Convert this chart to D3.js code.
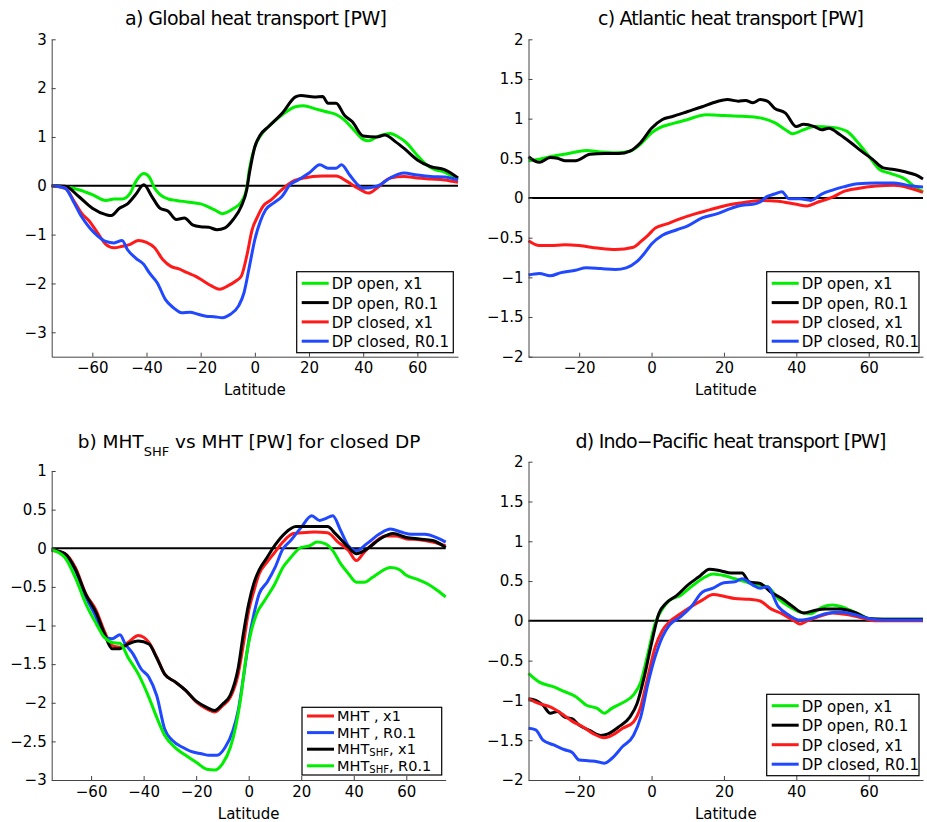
<!DOCTYPE html>
<html>
<head>
<meta charset="utf-8">
<script src="https://cdn.jsdelivr.net/npm/d3@7"></script>
<style>
  body { margin: 0; background: #fff; }
  svg { display: block; font-family: "DejaVu Sans", sans-serif; }
  .axis .domain { stroke: #444; }
  .axis line { stroke: #444; }
  .axis text { fill: #000; font-size: 15px; font-family: "DejaVu Sans", sans-serif; }
</style>
</head>
<body>
<div id="chart"></div>
<script>
// ---- data (latitude, PW) ----
const aOpenX1 = [[-75,0],[-70,-0.02],[-65,-0.08],[-60,-0.18],[-55,-0.3],[-52,-0.27],[-49,-0.27],[-46,-0.15],[-44,0.08],[-41,0.25],[-39,0.18],[-37,-0.05],[-35,-0.18],[-32,-0.27],[-29,-0.3],[-25,-0.33],[-20,-0.37],[-15,-0.49],[-12,-0.57],[-8,-0.47],[-5,-0.33],[-3,-0.05],[-2,0.35],[0,0.8],[2,1.02],[5,1.21],[10,1.45],[15,1.62],[18,1.64],[22,1.58],[26,1.52],[30,1.46],[33,1.35],[36,1.18],[40,0.95],[42,0.92],[45,1.0],[50,1.07],[53,1.0],[56,0.88],[60,0.62],[63,0.45],[66,0.34],[70,0.28],[75,0.12]];
const aOpenR01 = [[-75,0],[-70,-0.01],[-65,-0.22],[-60,-0.46],[-55,-0.59],[-53,-0.61],[-50,-0.46],[-47,-0.37],[-44,-0.18],[-41,0.02],[-38,-0.22],[-35,-0.46],[-32,-0.52],[-29,-0.69],[-26,-0.66],[-23,-0.8],[-20,-0.84],[-17,-0.85],[-14,-0.9],[-11,-0.86],[-8,-0.69],[-5,-0.42],[-3,-0.08],[-2,0.26],[0,0.8],[2,1.04],[5,1.21],[10,1.48],[15,1.82],[17,1.85],[22,1.82],[25,1.83],[27,1.69],[30,1.69],[33,1.45],[36,1.31],[40,1.02],[45,1.0],[48,1.04],[52,0.9],[55,0.77],[60,0.53],[65,0.39],[70,0.33],[75,0.16]];
const aClosedX1 = [[-75,0],[-70,-0.05],[-67,-0.29],[-64,-0.56],[-61,-0.73],[-58,-0.97],[-55,-1.2],[-52,-1.27],[-49,-1.24],[-46,-1.2],[-43,-1.12],[-40,-1.16],[-37,-1.27],[-34,-1.51],[-31,-1.65],[-28,-1.7],[-25,-1.78],[-22,-1.85],[-19,-1.95],[-16,-2.05],[-13,-2.12],[-10,-2.05],[-7,-1.95],[-5,-1.85],[-3,-1.44],[-1,-0.9],[1,-0.63],[3,-0.42],[6,-0.29],[10,-0.08],[14,0.09],[18,0.16],[25,0.2],[30,0.2],[34,0.09],[38,-0.05],[42,-0.15],[45,-0.05],[50,0.16],[55,0.19],[60,0.16],[65,0.14],[70,0.12],[75,0.07]];
const aClosedR01 = [[-75,0],[-70,-0.05],[-67,-0.32],[-64,-0.63],[-61,-0.86],[-58,-1.03],[-55,-1.14],[-52,-1.17],[-49,-1.12],[-47,-1.31],[-44,-1.48],[-41,-1.61],[-39,-1.78],[-36,-1.99],[-33,-2.33],[-30,-2.5],[-27,-2.6],[-24,-2.59],[-21,-2.63],[-18,-2.67],[-15,-2.68],[-12,-2.7],[-9,-2.63],[-6,-2.46],[-4,-2.19],[-2,-1.65],[0,-1.1],[2,-0.73],[4,-0.49],[7,-0.35],[10,-0.22],[13,0.02],[16,0.12],[20,0.26],[24,0.43],[27,0.36],[30,0.36],[32,0.43],[35,0.22],[38,0.02],[40,-0.05],[45,-0.01],[50,0.16],[55,0.26],[60,0.22],[65,0.19],[70,0.18],[75,0.12]];

const bMhtX1 = [[-75,-0.03],[-70,-0.07],[-66,-0.25],[-62,-0.59],[-58,-0.81],[-55,-1.07],[-52,-1.26],[-49,-1.28],[-46,-1.22],[-42,-1.13],[-38,-1.22],[-35,-1.41],[-32,-1.63],[-28,-1.73],[-24,-1.84],[-20,-1.99],[-16,-2.08],[-13,-2.12],[-10,-2.04],[-7,-1.93],[-4,-1.63],[-2,-1.24],[0,-0.81],[2,-0.55],[4,-0.33],[7,-0.18],[10,-0.05],[13,0.08],[17,0.19],[20,0.2],[25,0.21],[30,0.2],[34,0.08],[38,-0.03],[41,-0.16],[44,-0.05],[48,0.08],[52,0.16],[56,0.16],[60,0.12],[65,0.11],[70,0.08],[75,0.03]];
const bMhtR01 = [[-75,-0.02],[-70,-0.08],[-66,-0.29],[-62,-0.63],[-58,-0.9],[-55,-1.15],[-52,-1.17],[-49,-1.12],[-47,-1.24],[-44,-1.37],[-41,-1.56],[-38,-1.67],[-35,-1.91],[-32,-2.34],[-29,-2.49],[-25,-2.58],[-22,-2.63],[-18,-2.66],[-15,-2.68],[-12,-2.68],[-9,-2.58],[-6,-2.36],[-4,-2.1],[-2,-1.67],[0,-1.2],[2,-0.85],[4,-0.59],[7,-0.44],[10,-0.25],[13,-0.01],[16,0.1],[20,0.27],[24,0.42],[27,0.36],[29,0.38],[32,0.42],[35,0.23],[38,0.03],[41,-0.03],[45,0.06],[50,0.19],[54,0.25],[58,0.21],[62,0.18],[67,0.18],[72,0.13],[75,0.08]];
const bShfX1 = [[-75,-0.02],[-70,-0.07],[-66,-0.27],[-62,-0.6],[-58,-0.84],[-55,-1.1],[-52,-1.3],[-49,-1.3],[-46,-1.24],[-42,-1.2],[-38,-1.24],[-35,-1.42],[-32,-1.63],[-28,-1.73],[-24,-1.84],[-20,-1.98],[-16,-2.06],[-13,-2.1],[-10,-2.02],[-7,-1.9],[-4,-1.55],[-2,-1.1],[0,-0.72],[2,-0.45],[4,-0.28],[7,-0.12],[10,0.04],[14,0.2],[18,0.28],[24,0.28],[30,0.28],[33,0.19],[38,0.01],[41,-0.07],[45,-0.01],[50,0.12],[55,0.19],[60,0.14],[65,0.12],[70,0.1],[75,0.01]];
const bShfR01 = [[-75,-0.02],[-70,-0.12],[-66,-0.38],[-62,-0.72],[-58,-0.98],[-55,-1.15],[-52,-1.22],[-49,-1.23],[-46,-1.41],[-42,-1.63],[-38,-1.93],[-35,-2.19],[-32,-2.42],[-28,-2.58],[-24,-2.68],[-20,-2.77],[-16,-2.86],[-13,-2.87],[-10,-2.79],[-7,-2.58],[-5,-2.32],[-3,-1.93],[-1,-1.41],[1,-1.07],[3,-0.85],[6,-0.68],[10,-0.46],[13,-0.25],[16,-0.12],[20,0.01],[23,0.03],[26,0.08],[29,0.06],[32,-0.03],[35,-0.2],[38,-0.33],[41,-0.44],[44,-0.44],[47,-0.38],[50,-0.31],[54,-0.25],[57,-0.27],[60,-0.35],[64,-0.4],[68,-0.46],[72,-0.55],[75,-0.63]];

const cOpenX1 = [[-34,0.47],[-31,0.49],[-27,0.53],[-23,0.56],[-18,0.6],[-14,0.58],[-10,0.57],[-6,0.59],[-3,0.68],[0,0.82],[2,0.88],[6,0.94],[10,0.99],[15,1.05],[20,1.04],[25,1.03],[30,1.01],[34,0.95],[37,0.86],[39,0.81],[42,0.86],[45,0.9],[50,0.89],[54,0.84],[57,0.7],[60,0.53],[63,0.36],[66,0.31],[70,0.24],[73,0.13],[75,0.08]];
const cOpenR01 = [[-34,0.52],[-31,0.45],[-28,0.51],[-26,0.5],[-24,0.47],[-21,0.47],[-17,0.55],[-13,0.56],[-9,0.56],[-6,0.59],[-3,0.7],[0,0.88],[3,0.99],[6,1.03],[10,1.09],[14,1.15],[17,1.2],[21,1.24],[24,1.22],[26,1.23],[28,1.2],[30,1.24],[32,1.22],[34,1.13],[37,1.07],[40,0.9],[42,0.93],[45,0.9],[47,0.86],[49,0.88],[52,0.8],[55,0.7],[58,0.59],[61,0.49],[64,0.38],[67,0.36],[70,0.33],[73,0.29],[75,0.24]];
const cClosedX1 = [[-34,-0.54],[-31,-0.6],[-28,-0.6],[-24,-0.59],[-20,-0.6],[-15,-0.63],[-10,-0.65],[-5,-0.62],[-3,-0.55],[-1,-0.47],[1,-0.38],[4,-0.33],[8,-0.26],[12,-0.2],[16,-0.15],[20,-0.1],[25,-0.06],[30,-0.03],[35,-0.04],[40,-0.08],[43,-0.1],[46,-0.05],[50,0.01],[53,0.08],[57,0.12],[62,0.15],[67,0.16],[71,0.13],[75,0.07]];
const cClosedR01 = [[-34,-0.97],[-31,-0.95],[-28,-0.98],[-25,-0.94],[-21,-0.91],[-18,-0.88],[-14,-0.89],[-10,-0.9],[-7,-0.88],[-4,-0.8],[-2,-0.7],[0,-0.58],[3,-0.47],[7,-0.4],[10,-0.35],[14,-0.25],[18,-0.2],[22,-0.13],[25,-0.09],[28,-0.08],[30,-0.05],[32,0.02],[34,0.05],[36,0.08],[38,-0.01],[41,-0.01],[44,-0.03],[47,0.05],[50,0.1],[53,0.14],[57,0.18],[62,0.19],[67,0.19],[72,0.15],[75,0.14]];

const dOpenX1 = [[-34,-0.66],[-31,-0.77],[-27,-0.83],[-24,-0.89],[-21,-0.95],[-18,-1.06],[-15,-1.1],[-13,-1.16],[-11,-1.1],[-8,-1.03],[-5,-0.93],[-3,-0.77],[-1,-0.41],[1,-0.03],[3,0.15],[5,0.26],[8,0.32],[11,0.43],[14,0.53],[17,0.59],[20,0.57],[23,0.53],[26,0.49],[29,0.45],[32,0.43],[35,0.28],[38,0.18],[41,0.11],[44,0.09],[47,0.17],[50,0.2],[53,0.17],[57,0.09],[61,0.02],[65,0.02],[75,0.02]];
const dOpenR01 = [[-34,-0.98],[-32,-1.0],[-30,-1.06],[-28,-1.16],[-26,-1.14],[-24,-1.21],[-22,-1.23],[-20,-1.31],[-17,-1.38],[-14,-1.44],[-12,-1.42],[-9,-1.33],[-6,-1.21],[-4,-1.04],[-2,-0.7],[0,-0.28],[2,0.09],[4,0.22],[7,0.32],[10,0.45],[13,0.55],[16,0.65],[19,0.63],[22,0.6],[25,0.6],[27,0.49],[30,0.47],[33,0.36],[36,0.28],[39,0.18],[42,0.1],[45,0.13],[48,0.15],[52,0.15],[56,0.11],[60,0.03],[64,0.02],[75,0.02]];
const dClosedX1 = [[-34,-0.98],[-31,-1.04],[-28,-1.08],[-25,-1.16],[-22,-1.26],[-19,-1.33],[-16,-1.42],[-13,-1.47],[-11,-1.44],[-8,-1.35],[-5,-1.27],[-3,-1.08],[-1,-0.7],[1,-0.33],[3,-0.12],[5,-0.01],[8,0.09],[11,0.18],[14,0.26],[17,0.33],[20,0.31],[23,0.28],[27,0.27],[30,0.25],[33,0.15],[36,0.09],[39,0.01],[41,-0.04],[43,0],[46,0.05],[50,0.1],[54,0.08],[58,0.04],[62,0],[75,0]];
const dClosedR01 = [[-34,-1.35],[-32,-1.37],[-30,-1.5],[-27,-1.56],[-24,-1.62],[-22,-1.65],[-20,-1.75],[-17,-1.76],[-15,-1.77],[-13,-1.79],[-11,-1.73],[-8,-1.58],[-5,-1.44],[-3,-1.21],[-1,-0.79],[1,-0.45],[3,-0.2],[5,-0.05],[8,0.05],[11,0.18],[14,0.36],[17,0.41],[20,0.48],[23,0.49],[25,0.53],[28,0.45],[30,0.41],[32,0.43],[35,0.18],[38,0.07],[41,0.01],[44,0.03],[48,0.09],[52,0.11],[56,0.08],[60,0.03],[64,0.01],[75,0.01]];

const xTicksWide = [-60, -40, -20, 0, 20, 40, 60];
const xTicksNarrow = [-20, 0, 20, 40, 60];
const yTicksA = [-3, -2, -1, 0, 1, 2, 3];
const yTicksB = [-3, -2.5, -2, -1.5, -1, -0.5, 0, 0.5, 1];
const yTicksCD = [-2, -1.5, -1, -0.5, 0, 0.5, 1, 1.5, 2];

const dpLabels = ["DP open, x1", "DP open, R0.1", "DP closed, x1", "DP closed, R0.1"];

const GREEN = "#00ee00", BLACK = "#000000", RED = "#ff1a1a", BLUE = "#1f48ff";

const w = 927, h = 822;
const svg = d3.select("#chart").append("svg").attr("width", w).attr("height", h);

const fmt = v => String(v).replace("-", "\u2212");

// write text parts, with TeX-like subscripts
function addParts(text, parts, subSize, subShift) {
  parts.forEach(p => {
    const ts = text.append("tspan").text(p.text);
    if (p.sub) {
      ts.attr("dy", subShift).style("font-size", subSize + "px");
    } else if (p.after) {
      ts.attr("dy", -subShift);
    }
  });
}

function panel(opt) {
  const x = d3.scaleLinear().domain(opt.xDomain).range([opt.left, opt.right]);
  const y = d3.scaleLinear().domain(opt.yDomain).range([opt.bottom, opt.top]);
  const g = svg.append("g");

  // zero line
  g.append("line")
    .attr("x1", x(opt.xDomain[0])).attr("x2", x(opt.xDomain[1]))
    .attr("y1", y(0)).attr("y2", y(0))
    .attr("stroke", "#000").attr("stroke-width", 2);

  const line = d3.line().x(d => x(d[0])).y(d => y(d[1])).curve(d3.curveMonotoneX);
  opt.series.forEach(s => {
    g.append("path").datum(s.data)
      .attr("fill", "none").attr("stroke", s.color)
      .attr("stroke-width", 3).attr("stroke-linejoin", "round")
      .attr("d", line);
  });

  g.append("g").attr("class", "axis")
    .attr("transform", "translate(0," + opt.bottom + ")")
    .call(d3.axisBottom(x).tickValues(opt.xTicks).tickFormat(fmt).tickSize(-4).tickSizeOuter(0).tickPadding(6));
  g.append("g").attr("class", "axis")
    .attr("transform", "translate(" + opt.left + ",0)")
    .call(d3.axisLeft(y).tickValues(opt.yTicks).tickFormat(fmt).tickSize(-4).tickSizeOuter(0).tickPadding(5));

  // title
  const t = g.append("text")
    .attr("x", opt.titleX).attr("y", opt.titleY)
    .attr("text-anchor", "middle").style("font-size", opt.titleSize + "px");
  if (opt.titleLen) t.attr("textLength", opt.titleLen).attr("lengthAdjust", "spacing");
  addParts(t, opt.title, 13, 8);

  g.append("text")
    .attr("x", (opt.left + opt.right) / 2).attr("y", opt.bottom + 38.5)
    .attr("text-anchor", "middle").style("font-size", "15px")
    .text("Latitude");

  // legend
  const L = opt.legend;
  g.append("rect")
    .attr("x", L.x).attr("y", L.y).attr("width", L.w).attr("height", L.h)
    .attr("fill", "#fff").attr("stroke", "#000").attr("stroke-width", 1.2);
  opt.series.forEach((s, i) => {
    const ry = L.y + L.first + i * L.step;
    g.append("line")
      .attr("x1", L.x + 5).attr("x2", L.x + 32)
      .attr("y1", ry).attr("y2", ry)
      .attr("stroke", s.color).attr("stroke-width", 3);
    const tx = g.append("text")
      .attr("x", L.x + 35).attr("y", ry + L.base)
      .style("font-size", L.font + "px");
    addParts(tx, s.label, 10, 2);
  });
}

const dpSeries = (a, b, c, d) => [
  { data: a, color: GREEN, label: [{ text: dpLabels[0] }] },
  { data: b, color: BLACK, label: [{ text: dpLabels[1] }] },
  { data: c, color: RED, label: [{ text: dpLabels[2] }] },
  { data: d, color: BLUE, label: [{ text: dpLabels[3] }] }
];

panel({
  left: 51.7, right: 458, top: 39.3, bottom: 356.7,
  xDomain: [-75, 75], yDomain: [-3.5, 3], xTicks: xTicksWide, yTicks: yTicksA,
  titleX: 256, titleY: 25, titleSize: 19, titleLen: 262,
  title: [{ text: "a) Global heat transport [PW]" }],
  series: dpSeries(aOpenX1, aOpenR01, aClosedX1, aClosedR01),
  legend: { x: 296.7, y: 271.7, w: 156.6, h: 81, first: 11.6, step: 19.3, font: 15, base: 6 }
});

panel({
  left: 528.5, right: 923, top: 39.3, bottom: 356.7,
  xDomain: [-34, 75], yDomain: [-2, 2], xTicks: xTicksNarrow, yTicks: yTicksCD,
  titleX: 731, titleY: 25, titleSize: 19, titleLen: 266,
  title: [{ text: "c) Atlantic heat transport [PW]" }],
  series: dpSeries(cOpenX1, cOpenR01, cClosedX1, cClosedR01),
  legend: { x: 766.7, y: 271.7, w: 152.3, h: 81, first: 11.6, step: 19.3, font: 15, base: 6 }
});

panel({
  left: 51.7, right: 445.7, top: 471, bottom: 780,
  xDomain: [-75, 75], yDomain: [-3, 1], xTicks: xTicksWide, yTicks: yTicksB,
  titleX: 249, titleY: 448, titleSize: 18.5,
  title: [{ text: "b) MHT" }, { text: "SHF", sub: true }, { text: " vs MHT [PW] for closed DP", after: true }],
  series: [
    { data: bMhtX1, color: RED, label: [{ text: "MHT , x1" }] },
    { data: bMhtR01, color: BLUE, label: [{ text: "MHT , R0.1" }] },
    { data: bShfX1, color: BLACK, label: [{ text: "MHT" }, { text: "SHF", sub: true }, { text: ", x1", after: true }] },
    { data: bShfR01, color: GREEN, label: [{ text: "MHT" }, { text: "SHF", sub: true }, { text: ", R0.1", after: true }] }
  ],
  legend: { x: 302, y: 707.3, w: 139.7, h: 67.7, first: 8.7, step: 16.6, font: 14.5, base: 5 }
});

panel({
  left: 528.5, right: 923, top: 461.7, bottom: 780,
  xDomain: [-34, 75], yDomain: [-2, 2], xTicks: xTicksNarrow, yTicks: yTicksCD,
  titleX: 731, titleY: 448, titleSize: 19, titleLen: 311,
  title: [{ text: "d) Indo\u2212Pacific heat transport [PW]" }],
  series: dpSeries(dOpenX1, dOpenR01, dClosedX1, dClosedR01),
  legend: { x: 766.7, y: 694.3, w: 152.3, h: 81.4, first: 11.4, step: 19.5, font: 15, base: 6 }
});
</script>
</body>
</html>
